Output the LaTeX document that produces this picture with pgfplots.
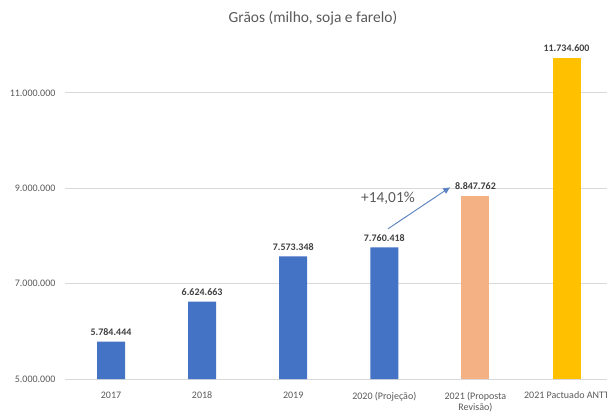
\documentclass[border=0pt]{standalone}
\usepackage{fontspec}
\setmainfont{Carlito}
\usepackage{pgfplots}
\pgfplotsset{compat=1.18}
\usetikzlibrary{arrows.meta}

\definecolor{barblue}{HTML}{4472C4}
\definecolor{barorange}{HTML}{F4B183}
\definecolor{baryellow}{HTML}{FFC000}
\definecolor{gridgray}{HTML}{D9D9D9}
\definecolor{txtgray}{HTML}{595959}
\definecolor{lblgray}{HTML}{404040}
\definecolor{arrowblue}{HTML}{5B83C2}

\begin{document}
\begin{tikzpicture}
% page = 607x412 px, 1 px = 0.75 pt, origin at the axis' lower left corner
\path[use as bounding box] (-49.1pt,-24.75pt) rectangle (406.1pt,284.25pt);
\begin{axis}[
  at={(0,0)}, anchor=south west, scale only axis,
  width=409.9pt, height=250.3pt,
  ybar, bar width=21pt, bar shift=0pt,
  xmin=-0.5, xmax=5.5,
  ymin=5000000, ymax=12000000,
  xtick={0,1,2,3,4,5},
  xticklabels={2017,2018,2019,2020 (Projeção),{2021 (Proposta\\Revisão)},2021 Pactuado ANTT},
  ytick={5000000,7000000,9000000,11000000},
  yticklabels={5.000.000,7.000.000,9.000.000,11.000.000},
  ymajorgrids, grid style={gridgray, line width=0.8pt},
  axis line style={draw=none},
  tick style={draw=none},
  scaled y ticks=false,
  ticklabel style={font=\fontsize{7.5}{8.3}\selectfont, text=txtgray},
  xticklabel style={align=center, yshift=-1.75pt},
  yticklabel style={xshift=-4pt},
  point meta=explicit symbolic,
  nodes near coords,
  every node near coord/.append style={font=\fontsize{7.5}{9}\selectfont\bfseries, text=lblgray, yshift=1pt},
]
% 2017-2020
\addplot[fill=barblue, draw=none] coordinates {
  (0,5784444) [5.784.444]
  (1,6624663) [6.624.663]
  (2,7573348) [7.573.348]
  (3,7760418) [7.760.418]
};
% 2021 proposta revisao
\addplot[fill=barorange, draw=none] coordinates {
  (4,8847762) [8.847.762]
};
% 2021 pactuado ANTT
\addplot[fill=baryellow, draw=none] coordinates {
  (5,11734600) [11.734.600]
};
\draw[arrowblue, line width=0.7pt, -{Triangle[length=5pt,width=4.5pt]}]
  (axis cs:3.04,8150000) -- (axis cs:3.72,9020000);
\node[text=txtgray, font=\fontsize{11.5}{13}\selectfont] at (axis cs:3.04,8800000) {+14,01\%};
\end{axis}
\node[text=txtgray, font=\fontsize{11.6}{13}\selectfont] at (185.6pt,270.75pt) {Grãos (milho, soja e farelo)};
\end{tikzpicture}
\end{document}
